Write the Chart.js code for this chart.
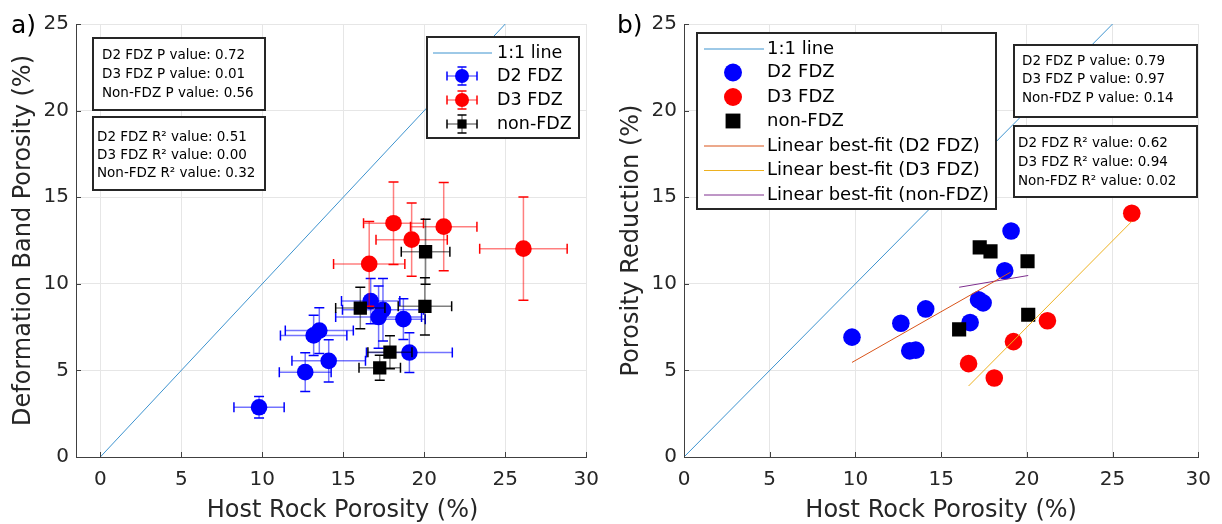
<!DOCTYPE html>
<html>
<head>
<meta charset="utf-8">
<script src="https://cdn.jsdelivr.net/npm/chart.js@4.4.0/dist/chart.umd.min.js"></script>
<style>
  body { margin: 0; background: #fff; width: 1222px; height: 524px; position: relative; overflow: hidden; }
  canvas { position: absolute; top: 0; }
  #chartA { left: 0; }
  #chartB { left: 610px; }
</style>
</head>
<body>
<canvas id="chartA" width="610" height="524" style="width:610px;height:524px"></canvas>
<canvas id="chartB" width="612" height="524" style="width:612px;height:524px"></canvas>
<script>
// host rock porosity (%) per sample, same in both panels
const d2Host = [9.8, 12.65, 14.1, 13.17, 13.52, 16.69, 17.18, 17.45, 18.71, 19.08];
const d3Host = [16.6, 18.1, 19.22, 21.2, 26.12];
const nonHost = [16.05, 20.08, 20.04, 17.88, 17.25];

// panel a: deformation band porosity (%) and error bars
const d2Band = [2.87, 4.9, 5.55, 7.02, 7.3, 9.0, 8.08, 8.5, 7.96, 6.03];
const d2HostErr = [1.55, 1.6, 2.27, 2.05, 2.1, 1.8, 2.65, 2.5, 1.35, 2.65];
const d2BandErr = [0.62, 1.12, 1.22, 1.16, 1.32, 1.3, 1.8, 1.8, 1.17, 1.15];
const d3Band = [11.15, 13.5, 12.55, 13.3, 12.03];
const d3HostErr = [2.2, 1.85, 2.2, 2.05, 2.7];
const d3BandErr = [2.45, 2.38, 2.12, 2.55, 2.98];
const nonBand = [8.6, 11.85, 8.7, 6.05, 5.15];
const nonHostErr = [1.52, 1.5, 1.65, 1.36, 1.28];
const nonBandErr = [1.2, 1.87, 1.65, 0.95, 0.72];

// panel b: porosity reduction (%)
const d2Reduction = [6.92, 7.72, 8.55, 6.13, 6.17, 7.76, 9.08, 8.9, 10.75, 13.05];
const d3Reduction = [5.39, 4.56, 6.66, 7.87, 14.07];
const nonReduction = [7.37, 8.21, 11.3, 11.87, 12.1];

// linear best-fit end points (panel b)
const fitD2X = [9.8, 19.05], fitD2Y = [5.46, 10.67];
const fitD3X = [16.6, 26.12], fitD3Y = [4.1, 13.6];
const fitNonX = [16.05, 20.08], fitNonY = [9.8, 10.48];

// 1:1 reference line
const oneX = [0, 25], oneY = [0, 25];

const statsA = {
    p: ['D2 FDZ P value: 0.72', 'D3 FDZ P value: 0.01', 'Non-FDZ P value: 0.56'],
    r: ['D2 FDZ R² value: 0.51', 'D3 FDZ R² value: 0.00', 'Non-FDZ R² value: 0.32']
};
const statsB = {
    p: ['D2 FDZ P value: 0.79', 'D3 FDZ P value: 0.97', 'Non-FDZ P value: 0.14'],
    r: ['D2 FDZ R² value: 0.62', 'D3 FDZ R² value: 0.94', 'Non-FDZ R² value: 0.02']
};

const TEXT = '#262626';
const FONT = '"DejaVu Sans", Verdana, sans-serif';
const BLUE = '#0000ff', RED = '#ff0000', BLACK = '#000000';

const pts = (xs, ys) => xs.map((x, i) => ({ x: x, y: ys[i] }));

function drawMarker(ctx, style, color, cx, cy, r) {
    ctx.fillStyle = color;
    ctx.beginPath();
    if (style === 'rect') {
        const s = r * Math.SQRT1_2;
        ctx.rect(cx - s, cy - s, 2 * s, 2 * s);
    } else {
        ctx.arc(cx, cy, r, 0, Math.PI * 2);
    }
    ctx.fill();
}

function drawErrGlyph(ctx, color, bar, cx, cy, hx, hy, cap) {
    ctx.lineWidth = 1.5;
    ctx.strokeStyle = bar;
    ctx.beginPath();
    ctx.moveTo(cx - hx, cy); ctx.lineTo(cx + hx, cy);
    ctx.moveTo(cx, cy - hy); ctx.lineTo(cx, cy + hy);
    ctx.stroke();
    ctx.strokeStyle = color;
    ctx.beginPath();
    ctx.moveTo(cx - hx, cy - cap); ctx.lineTo(cx - hx, cy + cap);
    ctx.moveTo(cx + hx, cy - cap); ctx.lineTo(cx + hx, cy + cap);
    ctx.moveTo(cx - cap, cy - hy); ctx.lineTo(cx + cap, cy - hy);
    ctx.moveTo(cx - cap, cy + hy); ctx.lineTo(cx + cap, cy + hy);
    ctx.stroke();
}

// error bars under each dataset's own markers
const errorBarPlugin = {
    id: 'errorBars',
    beforeDatasetDraw(chart, args) {
        const ds = chart.data.datasets[args.index];
        if (!ds.errX) return;
        const { ctx, scales: { x, y } } = chart;
        ctx.save();
        ds.data.forEach((p, i) => {
            const cx = x.getPixelForValue(p.x), cy = y.getPixelForValue(p.y);
            const x0 = x.getPixelForValue(p.x - ds.errX[i]), x1 = x.getPixelForValue(p.x + ds.errX[i]);
            const y0 = y.getPixelForValue(p.y + ds.errY[i]), y1 = y.getPixelForValue(p.y - ds.errY[i]);
            ctx.lineWidth = 1.5;
            ctx.strokeStyle = ds.barColor;
            ctx.beginPath();
            ctx.moveTo(x0, cy); ctx.lineTo(x1, cy);
            ctx.moveTo(cx, y0); ctx.lineTo(cx, y1);
            ctx.stroke();
            ctx.strokeStyle = ds.borderColor;
            ctx.beginPath();
            ctx.moveTo(x0, cy - 5); ctx.lineTo(x0, cy + 5);
            ctx.moveTo(x1, cy - 5); ctx.lineTo(x1, cy + 5);
            ctx.moveTo(cx - 5, y0); ctx.lineTo(cx + 5, y0);
            ctx.moveTo(cx - 5, y1); ctx.lineTo(cx + 5, y1);
            ctx.stroke();
        });
        ctx.restore();
    }
};

// panel tag, inward ticks, stats boxes and legend
const decorPlugin = {
    id: 'decor',
    afterDraw(chart, args, o) {
        const { ctx, chartArea: a, scales: { x, y } } = chart;
        ctx.save();

        ctx.strokeStyle = '#404040';
        ctx.lineWidth = 1;
        ctx.beginPath();
        x.ticks.forEach(t => {
            const px = Math.round(x.getPixelForValue(t.value)) + 0.5;
            ctx.moveTo(px, a.bottom); ctx.lineTo(px, a.bottom - 5);
        });
        y.ticks.forEach(t => {
            const py = Math.round(y.getPixelForValue(t.value)) + 0.5;
            ctx.moveTo(a.left, py); ctx.lineTo(a.left + 5, py);
        });
        ctx.stroke();

        ctx.fillStyle = BLACK;
        ctx.font = '25px ' + FONT;
        ctx.textBaseline = 'alphabetic';
        ctx.textAlign = 'left';
        ctx.fillText(o.tag, o.tagX, 33);

        o.boxes.forEach(b => {
            ctx.fillStyle = '#fff';
            ctx.fillRect(b.x, b.y, b.w, b.h);
            ctx.strokeStyle = TEXT;
            ctx.lineWidth = 2;
            ctx.strokeRect(b.x, b.y, b.w, b.h);
            ctx.fillStyle = BLACK;
            ctx.font = '13.5px ' + FONT;
            ctx.textBaseline = 'middle';
            b.lines.forEach((t, i) => ctx.fillText(t, b.textX, b.rows[i]));
        });

        const lg = o.legend;
        ctx.fillStyle = '#fff';
        ctx.fillRect(lg.x, lg.y, lg.w, lg.h);
        ctx.strokeStyle = TEXT;
        ctx.lineWidth = 2;
        ctx.strokeRect(lg.x, lg.y, lg.w, lg.h);
        chart.data.datasets.forEach((ds, i) => {
            const cy = lg.rows[i];
            if (ds.showLine) {
                ctx.strokeStyle = ds.borderColor;
                ctx.lineWidth = ds.borderWidth;
                ctx.beginPath();
                ctx.moveTo(lg.lineX0, cy); ctx.lineTo(lg.lineX1, cy);
                ctx.stroke();
            } else {
                if (ds.errX) drawErrGlyph(ctx, ds.borderColor, ds.barColor, lg.markX, cy, 15, 9, 4.5);
                drawMarker(ctx, ds.pointStyle, ds.backgroundColor, lg.markX, cy,
                    ds.pointStyle === 'rect' ? lg.rectR : lg.circleR);
            }
            ctx.fillStyle = BLACK;
            ctx.font = lg.font + 'px ' + FONT;
            ctx.textBaseline = 'middle';
            ctx.textAlign = 'left';
            ctx.fillText(ds.label, lg.textX, cy);
        });
        ctx.restore();
    }
};

function axes(xTitle, yTitle, yWidth, yTitlePad, xMin) {
    const tickFont = { family: FONT, size: 20 };
    const titleFont = { family: FONT, size: 24, lineHeight: 1 };
    return {
        x: {
            type: 'linear', min: xMin, max: 30,
            ticks: { stepSize: 5, includeBounds: false, color: TEXT, font: tickFont, padding: 11 },
            grid: { color: '#e6e6e6', drawTicks: false },
            border: { color: '#404040', width: 1 },
            title: { display: true, text: xTitle, color: TEXT, font: titleFont, padding: { top: 0, bottom: 1 } },
            afterFit: s => { s.height = 67; }
        },
        y: {
            type: 'linear', min: 0, max: 25,
            ticks: { stepSize: 5, color: TEXT, font: tickFont, padding: 7 },
            grid: { color: '#e6e6e6', drawTicks: false },
            border: { color: '#404040', width: 1 },
            title: { display: true, text: yTitle, color: TEXT, font: titleFont, padding: { top: yTitlePad, bottom: 0 } },
            afterFit: s => { s.width = yWidth; }
        }
    };
}

const lineSet = (label, xs, ys, color, order) => ({
    label: label, data: pts(xs, ys), showLine: true, borderColor: color, backgroundColor: color,
    borderWidth: 1, pointRadius: 0, order: order
});

const markSet = (label, xs, ys, color, style, r, order) => ({
    label: label, data: pts(xs, ys), pointStyle: style, pointRadius: r,
    backgroundColor: color, borderColor: color, borderWidth: 0, order: order
});

// panel a
const setD2a = markSet('D2 FDZ', d2Host, d2Band, BLUE, 'circle', 8.3, 3);
setD2a.errX = d2HostErr; setD2a.errY = d2BandErr; setD2a.barColor = 'rgba(0, 0, 255, 0.55)';
const setD3a = markSet('D3 FDZ', d3Host, d3Band, RED, 'circle', 8.3, 2);
setD3a.errX = d3HostErr; setD3a.errY = d3BandErr; setD3a.barColor = 'rgba(255, 0, 0, 0.5)';
const setNona = markSet('non-FDZ', nonHost, nonBand, BLACK, 'rect', 9.4, 1);
setNona.errX = nonHostErr; setNona.errY = nonBandErr; setNona.barColor = 'rgba(0, 0, 0, 0.5)';

new Chart(document.getElementById('chartA').getContext('2d'), {
    type: 'scatter',
    data: {
        datasets: [
            lineSet('1:1 line', oneX, oneY, '#3d93cf', 4),
            setD2a, setD3a, setNona
        ]
    },
    options: {
        responsive: false,
        animation: false,
        events: [],
        layout: { padding: { left: 0, top: 24, right: 18, bottom: 0 } },
        // leading spaces nudge the centred title right, as in the original
        scales: axes('\u00a0\u00a0\u00a0Host Rock Porosity (%)', 'Deformation Band Porosity (%)', 76, 12, -1.5),
        plugins: {
            legend: { display: false },
            tooltip: { enabled: false },
            decor: {
                tag: 'a)', tagX: 11,
                boxes: [
                    { x: 93, y: 38, w: 172, h: 72, textX: 102, rows: [55, 74, 93], lines: statsA.p },
                    { x: 93, y: 117, w: 172, h: 73, textX: 97, rows: [137, 155, 173], lines: statsA.r }
                ],
                legend: {
                    x: 427, y: 37, w: 152, h: 101, lineX0: 433, lineX1: 492, markX: 462, textX: 497,
                    rows: [53, 76, 100, 124], font: 17.5, circleR: 7, rectR: 6.5
                }
            }
        }
    },
    plugins: [errorBarPlugin, decorPlugin]
});

// panel b
new Chart(document.getElementById('chartB').getContext('2d'), {
    type: 'scatter',
    data: {
        datasets: [
            lineSet('1:1 line', oneX, oneY, '#3d93cf', 4),
            markSet('D2 FDZ', d2Host, d2Reduction, BLUE, 'circle', 8.8, 3),
            markSet('D3 FDZ', d3Host, d3Reduction, RED, 'circle', 8.8, 2),
            markSet('non-FDZ', nonHost, nonReduction, BLACK, 'rect', 10, 1),
            lineSet('Linear best-fit (D2 FDZ)', fitD2X, fitD2Y, '#d95319', 0),
            lineSet('Linear best-fit (D3 FDZ)', fitD3X, fitD3Y, '#edb120', 0),
            lineSet('Linear best-fit (non-FDZ)', fitNonX, fitNonY, '#7e2f8e', 0)
        ]
    },
    options: {
        responsive: false,
        animation: false,
        events: [],
        layout: { padding: { left: 0, top: 24, right: 18, bottom: 0 } },
        scales: axes('Host Rock Porosity (%)', 'Porosity Reduction (%)', 74, 10, 0),
        plugins: {
            legend: { display: false },
            tooltip: { enabled: false },
            decor: {
                tag: 'b)', tagX: 7,
                boxes: [
                    { x: 404, y: 45, w: 183, h: 72, textX: 412, rows: [61, 79.5, 98], lines: statsB.p },
                    { x: 404, y: 126, w: 183, h: 71, textX: 408, rows: [143, 162, 181], lines: statsB.r }
                ],
                legend: {
                    x: 87, y: 33, w: 299, h: 176, lineX0: 94, lineX1: 154, markX: 123, textX: 157,
                    rows: [49, 72.5, 97, 121, 146, 170.5, 195], font: 18, circleR: 9, rectR: 10.5
                }
            }
        }
    },
    plugins: [decorPlugin]
});
</script>
</body>
</html>
